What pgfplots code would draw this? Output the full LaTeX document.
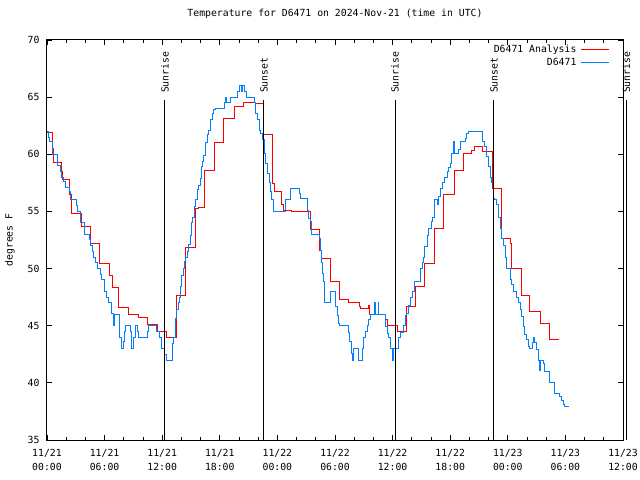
\documentclass[border=0pt]{standalone}
\usepackage{fontspec}
\setmainfont{DejaVu Sans Mono}
\usepackage{pgfplots}
\pgfplotsset{compat=1.18}
\definecolor{anared}{RGB}{255,0,0}
\definecolor{obsblue}{RGB}{0,128,255}
\newcommand{\tf}{\fontsize{9.8bp}{14bp}\selectfont}
\begin{document}
\begin{tikzpicture}
\path[use as bounding box] (-47bp,-40bp) rectangle (593bp,440bp);
\begin{axis}[
 at={(0,0)}, anchor=south west,
 scale only axis, width=576bp, height=400bp,
 xmin=0, xmax=60, ymin=35, ymax=70,
 xtick={0,6,...,60}, minor x tick num=2,
 xticklabels={{11/21\\00:00},{11/21\\06:00},{11/21\\12:00},{11/21\\18:00},{11/22\\00:00},{11/22\\06:00},{11/22\\12:00},{11/22\\18:00},{11/23\\00:00},{11/23\\06:00},{11/23\\12:00}},
 ytick={35,40,...,70},
 axis line style={line width=1bp},
 tick style={black, line width=0.8bp},
 major tick length=5bp, minor tick length=3bp,
 tick align=inside,
 x tick label style={align=center, font=\tf, yshift=-6bp},
 y tick label style={font=\tf, xshift=-4bp},
 /pgf/number format/assume math mode=true,
 title={Temperature for D6471 on 2024-Nov-21 (time in UTC)},
 title style={at={(axis description cs:0.5,1)}, anchor=center, yshift=20bp, font=\tf},
 ylabel={degrees F},
 ylabel style={at={(axis description cs:-0.0642,0.5)}, anchor=center, font=\tf},
 legend style={draw=none, fill=none, at={(axis description cs:0.982,0.998)}, anchor=north east, font=\tf, legend cell align=right, row sep=0bp, column sep=2bp},
 legend plot pos=right,
 legend image code/.code={\draw[#1] (0bp,0bp) -- (28bp,0bp);},
 clip=false,
]
\addplot[const plot, anared, line width=1bp] coordinates {
(0,61.9) (0.55,60.5) (0.65,59.3) (1.5,58.5) (1.6,57.75) (2.35,56.5) (2.6,54.85)
(3.55,53.7) (4.5,52.2) (5.5,50.45) (6.5,49.4) (6.8,48.3) (7.5,46.6) (8.5,46.0)
(9.55,45.75) (10.5,45.1) (11.5,44.5) (12.48,43.95) (13.46,45.6) (13.53,47.6)
(14.46,51.8) (15.47,55.25) (15.8,55.35) (16.44,58.6) (17.47,61.05) (18.4,63.15)
(19.5,64.15) (20.48,64.55) (21.76,64.45) (22.56,61.7) (23.5,57.4) (23.7,56.7)
(24.43,55.6) (24.6,55.1) (25.47,54.95) (26.5,55.0) (27.4,53.45) (28.4,51.6)
(28.55,50.9) (29.5,48.85) (30.5,47.25) (31.45,47.05) (32.5,46.65) (32.67,46.5)
(33.46,46.8) (33.6,46.0) (35.26,45.5) (35.43,45.0) (36.47,44.45) (37.44,46.7)
(38.38,48.4) (39.35,50.45) (40.35,53.5) (41.35,56.5) (42.43,58.55) (43.39,60.1)
(44.25,60.3) (44.5,60.7) (45.37,60.25) (46.44,57.0) (47.37,52.65) (48.24,52.2)
(48.4,50.0) (49.38,47.6) (50.3,46.2) (51.38,45.2) (52.39,43.8) (53.32,43.8)
};
\addlegendentry{D6471 Analysis}
\addplot[const plot, obsblue, line width=1bp] coordinates {
(0,62.0) (0.14,61.5) (0.24,61.1) (0.59,60.0) (1.11,59.0) (1.42,58.5) (1.52,58.0)
(1.76,57.6) (1.97,57.1) (2.39,56.7) (2.49,56.0) (3.04,55.5) (3.15,55.0) (3.53,54.0)
(3.87,53.0) (4.46,52.5) (4.57,52.0) (4.71,51.5) (4.81,51.0) (5.02,50.5) (5.26,50.0)
(5.57,49.5) (5.67,49.0) (5.95,48.0) (6.19,47.5) (6.37,47.0) (6.75,46.1) (6.95,45.0)
(7.06,46.0) (7.51,44.0) (7.72,43.0) (7.92,43.6) (8.10,44.5) (8.20,45.0) (8.69,44.5)
(8.83,43.0) (8.96,44.0) (9.17,45.0) (9.38,44.5) (9.58,44.0) (10.52,44.5) (10.62,45.0)
(11.38,44.5) (11.73,44.0) (11.9,43.0) (12.25,42.5) (12.4,42.0) (13.04,43.46)
(13.18,44.0) (13.39,45.65) (13.53,46.4) (13.7,47.0) (13.81,47.5) (13.91,48.4)
(14.05,49.4) (14.19,50.0) (14.33,50.6) (14.43,51.0) (14.6,51.5) (14.78,52.1)
(14.91,52.9) (15.05,54.0) (15.19,54.5) (15.33,55.4) (15.47,56.0) (15.64,56.9)
(15.78,57.3) (15.95,57.9) (16.12,58.9) (16.23,59.4) (16.33,59.9) (16.5,61.0)
(16.68,61.7) (16.85,62.1) (17.02,63.0) (17.2,63.6) (17.37,63.9) (17.54,64.0)
(18.5,64.5) (18.6,65.0) (18.7,64.5) (19.1,65.0) (19.86,65.5) (20.03,66.0)
(20.21,65.5) (20.38,66.0) (20.62,65.5) (20.73,65.0) (21.59,64.5) (21.76,63.6)
(21.97,63.0) (22.11,62.1) (22.28,61.8) (22.46,61.25) (22.63,60.1) (22.8,59.2)
(22.98,58.3) (23.15,57.5) (23.32,56.7) (23.42,56.0) (23.6,55.0) (24.81,56.0)
(25.33,57.0) (26.26,56.6) (26.37,56.1) (27.16,55.1) (27.27,54.4) (27.40,54.1)
(27.54,53.0) (28.34,52.6) (28.44,51.6) (28.55,50.5) (28.65,49.6) (28.75,48.9)
(28.86,47.0) (29.58,48.0) (30.1,46.7) (30.24,45.9) (30.35,45.2) (30.45,45.0)
(31.38,44.4) (31.52,43.6) (31.69,42.6) (31.8,42.0) (31.97,43.0) (32.49,42.0)
(32.9,43.0) (33.01,44.0) (33.18,44.5) (33.36,45.0) (33.53,45.5) (33.7,46.0)
(34.15,47.0) (34.2,46.0) (34.5,47.0) (34.57,46.0) (35.26,44.9) (35.43,44.3)
(35.6,44.0) (35.78,43.0) (35.96,42.0) (36.13,43.0) (36.58,44.0) (36.82,44.4)
(37.09,45.0) (37.33,45.9) (37.41,46.1) (37.62,46.8) (37.86,47.5) (38.03,48.0)
(38.31,48.9) (38.9,50.0) (39.07,50.5) (39.24,51.0) (39.35,51.9) (39.59,52.9)
(39.76,53.5) (40.04,54.1) (40.18,54.5) (40.38,56.0) (40.63,55.6) (40.8,56.3)
(40.97,57.0) (41.22,57.5) (41.42,58.0) (41.67,58.5) (41.84,58.8) (42.01,59.2)
(42.18,60.1) (42.36,61.1) (42.46,60.1) (42.88,60.4) (43.05,61.1) (43.57,61.4)
(43.74,61.8) (43.91,62.0) (45.4,61.1) (45.58,60.7) (45.82,59.8) (45.99,58.9)
(46.16,58.0) (46.34,57.5) (46.51,56.1) (46.61,56.0) (46.85,55.6) (47.03,54.5)
(47.2,53.5) (47.37,52.6) (47.55,52.0) (47.72,51.0) (47.89,50.0) (48.24,49.0)
(48.41,48.6) (48.58,48.0) (48.93,47.5) (49.1,47.0) (49.28,46.4) (49.45,45.8)
(49.62,44.9) (49.79,44.2) (49.97,43.8) (50.14,43.2) (50.31,43.0) (50.59,43.5)
(50.66,44.0) (50.75,43.5) (51.0,42.9) (51.18,42.0) (51.35,41.1) (51.4,42.0)
(51.7,41.7) (51.87,41.0) (52.39,40.0) (52.91,39.1) (53.43,38.8) (53.6,38.5)
(53.77,38.1) (53.95,37.9) (54.36,37.9)
};
\addlegendentry{D6471}
\addplot[black, line width=1bp, forget plot] coordinates {(12.29,35) (12.29,64.75)};
\addplot[black, line width=1bp, forget plot] coordinates {(22.6,35) (22.6,64.75)};
\addplot[black, line width=1bp, forget plot] coordinates {(36.25,35) (36.25,64.75)};
\addplot[black, line width=1bp, forget plot] coordinates {(46.56,35) (46.56,64.75)};
\addplot[black, line width=1bp, forget plot] coordinates {(60.35,35) (60.35,64.75)};
\node[rotate=90, anchor=west, inner sep=0pt, font=\tf] at (axis cs:12.29,65.35) {Sunrise};
\node[rotate=90, anchor=west, inner sep=0pt, font=\tf] at (axis cs:22.6,65.35) {Sunset};
\node[rotate=90, anchor=west, inner sep=0pt, font=\tf] at (axis cs:36.25,65.35) {Sunrise};
\node[rotate=90, anchor=west, inner sep=0pt, font=\tf] at (axis cs:46.56,65.35) {Sunset};
\node[rotate=90, anchor=west, inner sep=0pt, font=\tf] at (axis cs:60.35,65.35) {Sunrise};
\end{axis}
\end{tikzpicture}
\end{document}
